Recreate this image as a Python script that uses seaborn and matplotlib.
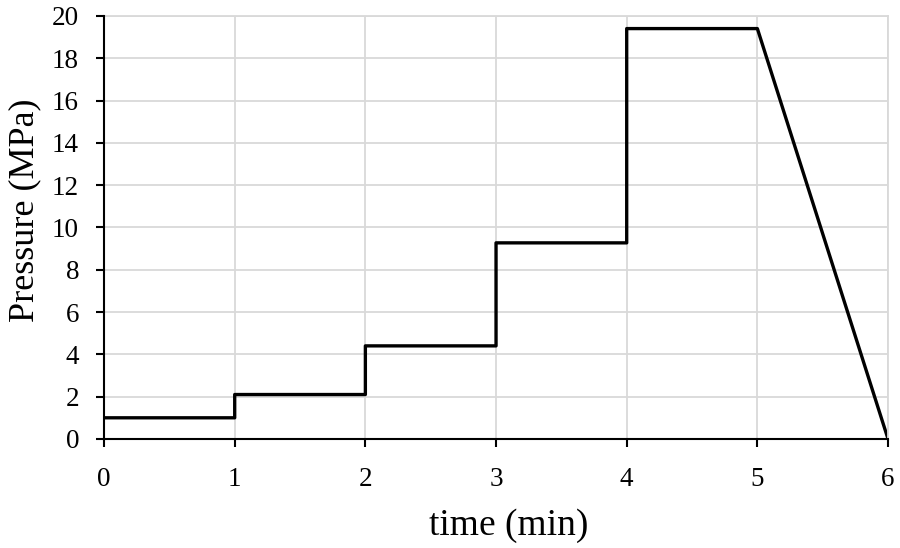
import matplotlib
matplotlib.use("Agg")
import matplotlib.pyplot as plt
import seaborn as sns
import pandas as pd

# pressure programme
time_min = [0, 1, 1, 2, 2, 3, 3, 4, 4, 5, 6]
pressure_mpa = [1.0, 1.0, 2.1, 2.1, 4.4, 4.4, 9.27, 9.27, 19.4, 19.4, 0.0]
x_ticks = [0, 1, 2, 3, 4, 5, 6]
y_ticks = [0, 2, 4, 6, 8, 10, 12, 14, 16, 18, 20]

sns.set_theme(style="whitegrid")
plt.rcParams['font.family'] = ['Liberation Serif', 'DejaVu Serif']

df = pd.DataFrame({"time": time_min, "pressure": pressure_mpa})

fig, ax = plt.subplots(figsize=(9, 5.48), dpi=100)
fig.subplots_adjust(left=0.1156, right=0.9867, top=0.971, bottom=0.199)

# estimator=None keeps the vertical steps (same x twice)
sns.lineplot(data=df, x="time", y="pressure", sort=False, estimator=None,
             color="black", linewidth=2.4, ax=ax)

ax.set_xlim(0, 6)
ax.set_ylim(0, 20)
ax.set_xticks(x_ticks)
ax.set_yticks(y_ticks)
ax.grid(True, color="#d9d9d9", linewidth=1.3)

for side in ["top", "right"]:
    ax.spines[side].set_color("#d9d9d9")
    ax.spines[side].set_linewidth(1.3)
for side in ["left", "bottom"]:
    ax.spines[side].set_color("black")
    ax.spines[side].set_linewidth(1.5)
    ax.spines[side].set_zorder(3)

ax.tick_params(axis="both", which="major", direction="out", length=6,
               width=1.5, color="black", labelsize=19.5, labelcolor="black",
               left=True, bottom=True)
ax.tick_params(axis="y", pad=12)
ax.tick_params(axis="x", pad=14)

ax.set_xlabel("time (min)", fontsize=27, color="black")
ax.set_ylabel("Pressure (MPa)", fontsize=26, color="black")
ax.xaxis.set_label_coords(0.5166, -0.163)
ax.yaxis.set_label_coords(-0.080, 0.541)

fig.savefig("out.png", dpi=100, facecolor="white")
